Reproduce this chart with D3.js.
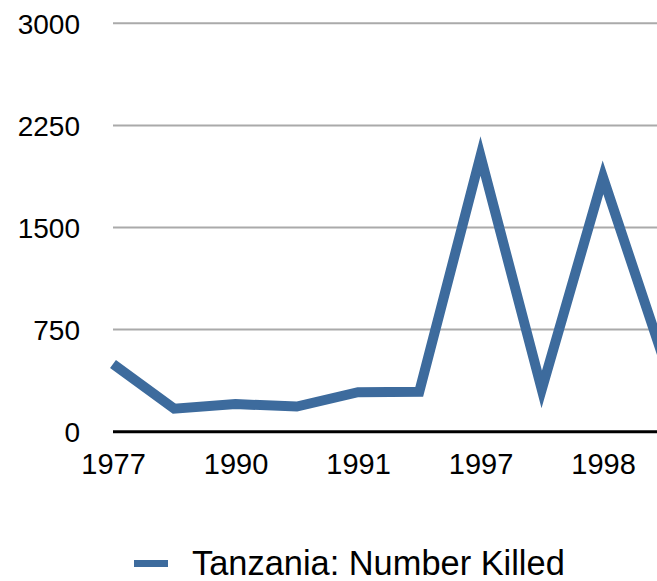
<!DOCTYPE html>
<html>
<head>
<meta charset="utf-8">
<script src="https://cdn.jsdelivr.net/npm/d3@7"></script>
<style>
  html, body { margin: 0; padding: 0; background: #fff; overflow: hidden; }
  svg { display: block; font-family: "Liberation Sans", Arial, Helvetica, sans-serif; }
</style>
</head>
<body>
<svg id="chart" width="657" height="581"></svg>
<script>
// ---- data ----
const categories = ["1977", "", "1990", "", "1991", "", "1997", "", "1998", ""];
const values = [497, 169, 203, 185, 290, 293, 2025, 310, 1868, 520];
const yTicks = [0, 750, 1500, 2250, 3000];
const seriesName = "Tanzania: Number Killed";

// ---- layout ----
(function () {
const svg = d3.select("#chart");
const plotLeft = 113, plotBottom = 431.7, plotTop = 23.3;
const step = 61.25;

const x = d3.scalePoint()
  .domain(d3.range(categories.length))
  .range([plotLeft, plotLeft + step * (categories.length - 1)]);

const y = d3.scaleLinear().domain([0, 3000]).range([plotBottom, plotTop]);

const color = "#3d6b9d";

// grid lines
svg.append("g")
  .selectAll("line")
  .data(yTicks.filter(d => d > 0))
  .join("line")
  .attr("x1", plotLeft).attr("x2", 700)
  .attr("y1", d => y(d)).attr("y2", d => y(d))
  .attr("stroke", "#aaaaaa").attr("stroke-width", 2);

// y labels
const yAxis = d3.axisLeft(y).tickValues(yTicks).tickSize(0).tickPadding(0)
  .tickFormat(d3.format("d"));
const gy = svg.append("g").attr("transform", "translate(80,0)").call(yAxis);
gy.select(".domain").remove();
gy.selectAll("text")
  .attr("font-size", 28)
  .attr("font-family", "Liberation Sans, Arial, sans-serif")
  .attr("fill", "#000")
  .attr("dy", "0.36em");

// x axis line
svg.append("line")
  .attr("x1", plotLeft).attr("x2", 700)
  .attr("y1", plotBottom).attr("y2", plotBottom)
  .attr("stroke", "#000").attr("stroke-width", 3);

// x labels
const xAxis = d3.axisBottom(x).tickSize(0).tickPadding(0).tickFormat(i => categories[i]);
const gx = svg.append("g").attr("transform", `translate(0,${plotBottom})`).call(xAxis);
gx.select(".domain").remove();
gx.selectAll("text")
  .attr("font-size", 29)
  .attr("font-family", "Liberation Sans, Arial, sans-serif")
  .attr("fill", "#000")
  .attr("dy", null)
  .attr("y", 42);

// line
const line = d3.line().x((d, i) => x(i)).y(d => y(d));
svg.append("path")
  .datum(values)
  .attr("d", line)
  .attr("fill", "none")
  .attr("stroke", color)
  .attr("stroke-width", 10)
  .attr("stroke-linejoin", "miter")
  .attr("stroke-miterlimit", 10);

// legend
svg.append("line")
  .attr("x1", 134).attr("x2", 168)
  .attr("y1", 563.5).attr("y2", 563.5)
  .attr("stroke", color).attr("stroke-width", 7);
svg.append("text")
  .attr("x", 192).attr("y", 575)
  .attr("font-size", 34.4)
  .attr("fill", "#000")
  .text(seriesName);
})();
</script>
</body>
</html>
